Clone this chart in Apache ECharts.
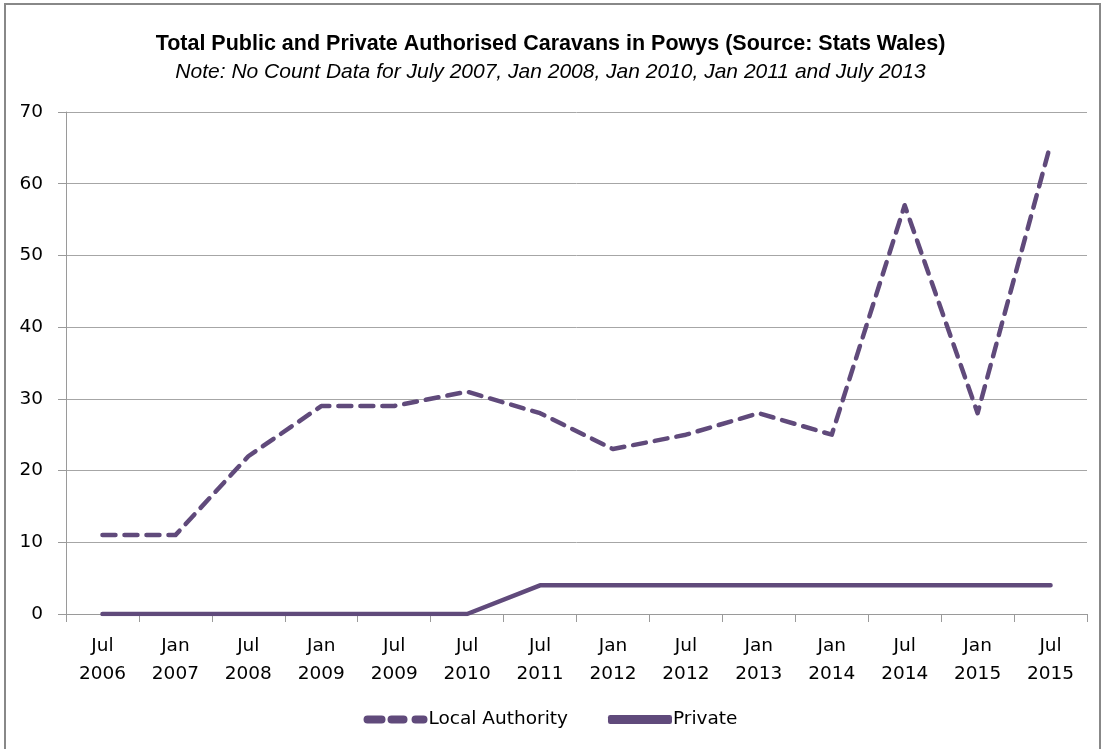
<!DOCTYPE html>
<html><head><meta charset="utf-8">
<script src="https://cdn.jsdelivr.net/npm/echarts@6/dist/echarts.min.js"></script>
<style>html,body{margin:0;padding:0;background:#fff}#c{width:1101px;height:749px}</style>
</head><body><div id="c"></div>
<script>
const categories = ['Jul\n2006','Jan\n2007','Jul\n2008','Jan\n2009','Jul\n2009','Jul\n2010','Jul\n2011','Jan\n2012','Jul\n2012','Jan\n2013','Jan\n2014','Jul\n2014','Jan\n2015','Jul\n2015'];
const localAuthority = [11,11,22,29,29,31,28,23,25,28,25,57,28,65.5];
const privateVals = [0,0,0,0,0,0,4,4,4,4,4,4,4,4];
const yTicks = {min:0, max:70, interval:10};
const titleText = 'Total Public and Private Authorised Caravans in Powys (Source: Stats Wales)';
const subtitleText = 'Note: No Count Data for July 2007, Jan 2008, Jan 2010, Jan 2011 and July 2013';

const purple = '#604a7b';
const chart = echarts.init(document.getElementById('c'), null, {renderer:'canvas'});
chart.setOption({
  animation:false,
  graphic:[{type:'rect',shape:{x:5,y:4,width:1095,height:760},style:{fill:'none',stroke:'#888888',lineWidth:2},silent:true}],
  title:{text:titleText, subtext:subtitleText, left:'center', top:28, itemGap:7,
    textStyle:{fontFamily:'Liberation Sans',fontWeight:'bold',fontSize:21.5,color:'#000'},
    subtextStyle:{fontFamily:'Liberation Sans',fontStyle:'italic',fontSize:21,color:'#000'}},
  legend:{bottom:15,left:'center',itemWidth:64,itemHeight:9,itemGap:40,
    textStyle:{fontFamily:'DejaVu Sans',fontSize:18.5,color:'#000',padding:[0,0,0,-4]},
    data:[{name:'Local Authority',icon:'path://M2,0h14a4,4 0 0 1 0,8h-14a4,4 0 0 1 0,-8z M26,0h12a4,4 0 0 1 0,8h-12a4,4 0 0 1 0,-8z M50,0h8a4,4 0 0 1 0,8h-8a4,4 0 0 1 0,-8z'},{name:'Private',icon:'roundRect'}]},
  grid:{left:66,right:14,top:112,bottom:135,containLabel:false},
  xAxis:{type:'category',data:categories,boundaryGap:true,
    axisLine:{lineStyle:{color:'#9a9a9a',width:1}},
    axisTick:{show:true,length:8,interval:0,lineStyle:{color:'#9a9a9a'}},
    axisLabel:{interval:0,fontFamily:'DejaVu Sans',fontSize:18.5,color:'#000',margin:18,lineHeight:28}},
  yAxis:{type:'value',min:yTicks.min,max:yTicks.max,interval:yTicks.interval,
    axisLine:{show:true,lineStyle:{color:'#9a9a9a'}},
    axisTick:{show:true,length:8,lineStyle:{color:'#9a9a9a'}},
    axisLabel:{fontFamily:'DejaVu Sans',fontSize:18.5,color:'#000',margin:23},
    splitLine:{lineStyle:{color:'#a6a6a6',width:1}}},
  series:[
    {name:'Local Authority',type:'line',data:localAuthority,showSymbol:false,symbol:'none',
      lineStyle:{color:purple,width:4.5,type:[13,9],cap:'round',join:'round'},itemStyle:{color:purple}},
    {name:'Private',type:'line',data:privateVals,showSymbol:false,symbol:'none',
      lineStyle:{color:purple,width:4.5,cap:'round'},itemStyle:{color:purple}}
  ]
});
</script></body></html>
